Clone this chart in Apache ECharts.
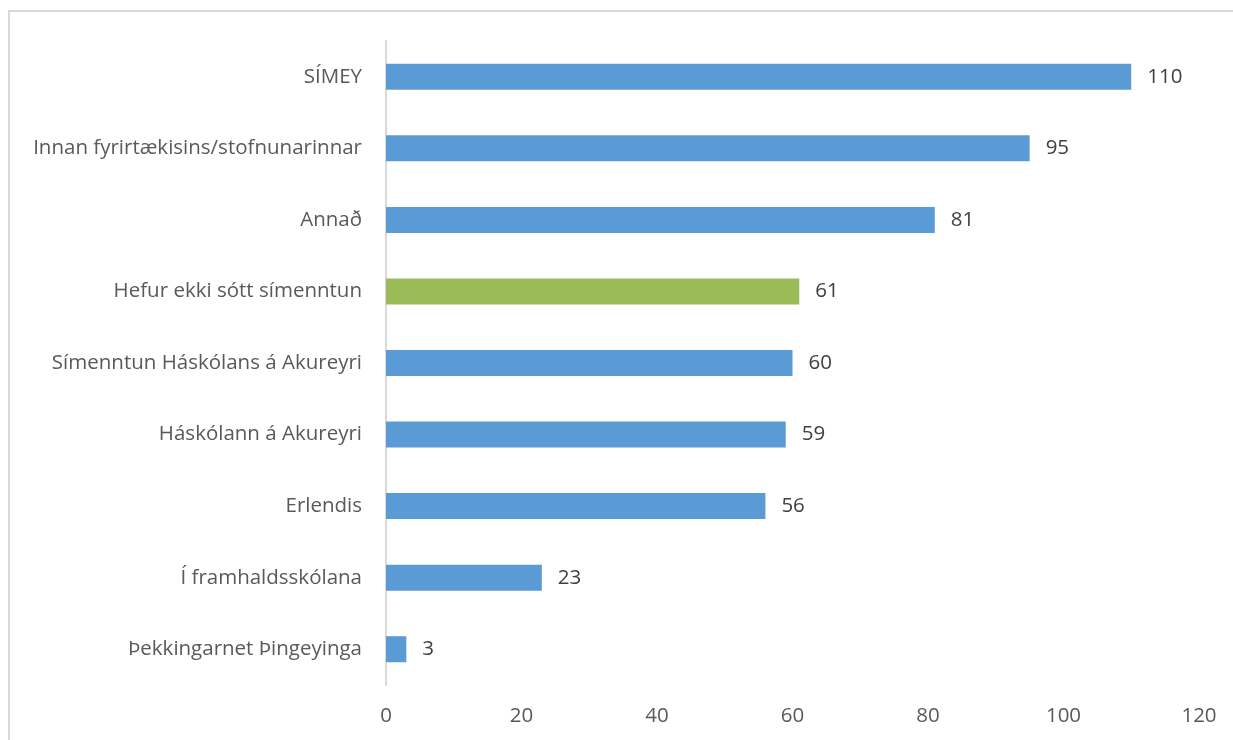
<!DOCTYPE html>
<html>
<head>
<meta charset="utf-8">
<script src="https://cdn.jsdelivr.net/npm/echarts@6/dist/echarts.min.js"></script>
<style>
html,body{margin:0;padding:0;background:#fff;overflow:hidden;}
#frame{position:absolute;left:8px;top:10px;width:1300px;height:800px;border:2px solid #d9d9d9;box-sizing:border-box;}
#chart{position:absolute;left:0;top:0;width:1233px;height:740px;}
</style>
</head>
<body>
<div id="frame"></div>
<div id="chart"></div>
<script>
const categories = ["SÍMEY","Innan fyrirtækisins/stofnunarinnar","Annað","Hefur ekki sótt símenntun","Símenntun Háskólans á Akureyri","Háskólann á Akureyri","Erlendis","Í framhaldsskólana","Þekkingarnet Þingeyinga"];
const values = [110,95,81,61,60,59,56,23,3];
const highlight = "Hefur ekki sótt símenntun";
const xTicks = [0,20,40,60,80,100,120];

const FONT = "Open Sans";
const FS = 20.5;
const chart = echarts.init(document.getElementById('chart'));
chart.setOption({
  animation:false,
  grid:{left:386,right:34,top:41,bottom:55,containLabel:false},
  xAxis:{
    type:'value',min:xTicks[0],max:xTicks[xTicks.length-1],interval:20,
    axisLine:{show:false},axisTick:{show:false},splitLine:{show:false},
    axisLabel:{color:'#595959',fontSize:FS,fontFamily:FONT,margin:21}
  },
  yAxis:{
    type:'category',inverse:true,data:categories,
    axisLine:{show:true,lineStyle:{color:'#d9d9d9',width:2}},
    axisTick:{show:false},
    axisLabel:{color:'#595959',fontSize:FS,fontFamily:FONT,margin:24}
  },
  series:[{
    type:'bar',barWidth:26,
    data:categories.map((c,i)=>({value:values[i],itemStyle:{color:c===highlight?'#9bbb59':'#5b9bd5'}})),
    label:{show:true,position:'right',distance:16,color:'#404040',fontSize:FS,fontFamily:FONT}
  }]
});
</script>
</body>
</html>
